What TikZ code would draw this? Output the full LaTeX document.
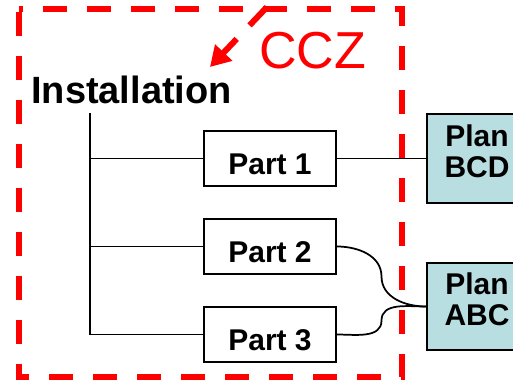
\documentclass[tikz,border=0pt]{standalone}
\usepackage{fontspec}
\setmainfont{Liberation Sans}
\usepackage{tikz}
\usetikzlibrary{arrows.meta,calc}
\definecolor{CczRed}{HTML}{FF0000}
\definecolor{PlanBg}{HTML}{B8DEE2}

\begin{document}
\begin{tikzpicture}[x=0.75pt,y=0.75pt,
                    every node/.style={font=\bfseries\fontsize{22.5pt}{23.25pt}\selectfont},
                    partbox/.style={draw,line width=1.5pt,fill=white,minimum width=99pt,
                                    minimum height=41.25pt,text height=24pt,text depth=0pt},
                    planbox/.style={draw,line width=1.5pt,fill=PlanBg,minimum width=75pt,
                                    align=center,text depth=10.5pt},
                    link/.style={line width=1.3pt},
                    cczline/.style={CczRed,line width=4.5pt,dash pattern=on 18pt off 15pt}]
  \useasboundingbox (0,0) rectangle (513,-379);

  % zone boundary
  \draw[cczline,dash phase=-2pt] (18.5,-9) rectangle (402,-377);

  \node[anchor=base west,inner sep=0pt,font=\bfseries\fontsize{28.5pt}{30pt}\selectfont]
    (inst) at (31,-103) {Installation};
  \node[anchor=base west,inner sep=0pt,text=CczRed,font=\fontsize{39pt}{40pt}\selectfont]
    (ccz) at (259,-68) {CCZ};

  \node[partbox] (p1) at (270,-158.5) {Part 1};
  \node[partbox] (p2) at (270,-246.5) {Part 2};
  \node[partbox] (p3) at (270,-334.5) {Part 3};

  \node[planbox,minimum height=66.75pt] (bcd) at (477,-158.5) {Plan\\BCD};
  \node[planbox,minimum height=65.25pt] (abc) at (477,-306.5) {Plan\\ABC};

  \coordinate (trunk) at (90,-113);
  \coordinate (cczfrom) at (267,-7);
  \coordinate (cczto) at (210,-67);

  % tree
  \draw[link] (trunk) |- (p3.west);
  \draw[link] (trunk |- p1.west) -- (p1.west);
  \draw[link] (trunk |- p2.west) -- (p2.west);

  % parts to plans
  \draw[link] (p1.east) -- (bcd.west);
  \draw[link] (p2.east) to[out=0,in=90] ($(p2.east)!0.5!(abc.west)$) to[out=-90,in=180] (abc.west);
  \draw[link] (p3.east) to[out=0,in=-90] ($(p3.east)!0.5!(abc.west)$) to[out=90,in=180] (abc.west);

  \draw[cczline,dash pattern=on 19pt off 14pt,-{Triangle[length=15pt,width=17pt]}] (cczfrom) -- (cczto);
\end{tikzpicture}
\end{document}
